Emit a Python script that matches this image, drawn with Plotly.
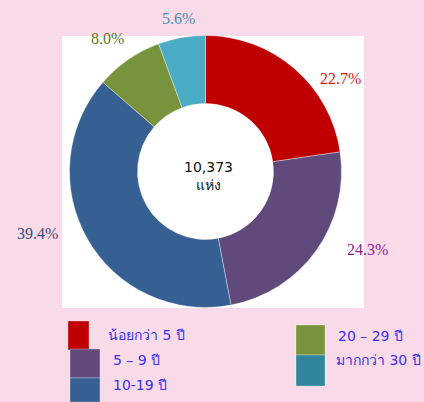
import plotly.graph_objects as go

# ข้อมูล
labels = ["น้อยกว่า 5 ปี", "5 – 9 ปี", "10-19 ปี", "20 – 29 ปี", "มากกว่า 30 ปี"]
values = [22.7, 24.3, 39.4, 8.0, 5.6]
slice_colors = ["#C00000", "#604A7B", "#376092", "#77933C", "#4BACC6"]
legend_colors = ["#C00000", "#604A7B", "#376092", "#77933C", "#31859C"]
pct_colors = ["#D9151B", "#8E1A8E", "#3A4A70", "#5C7A2A", "#4A90B4"]
total_text = "10,373<br>แห่ง"

W, H = 424, 402
PINK = "#F9DAE9"


def px(x):
    return x / W


def py(y):
    return 1 - y / H


fig = go.Figure()

# พื้นที่วงกลม: ศูนย์กลาง (205.5, 171.5) รัศมี 136
cx, cy, r = 205.5, 171.5, 136
fig.add_trace(go.Pie(
    labels=labels, values=values,
    hole=0.5, sort=False, direction="clockwise", rotation=0,
    marker=dict(colors=slice_colors, line=dict(color="rgba(255,255,255,0.6)", width=0.6)),
    textinfo="none", hoverinfo="label+percent",
    showlegend=False,
    domain=dict(x=[px(cx - r), px(cx + r)], y=[py(cy + r), py(cy - r)]),
))

# กรอบขาว
fig.add_shape(type="rect", xref="paper", yref="paper",
              x0=px(62), x1=px(364), y0=py(308), y1=py(36),
              fillcolor="white", line=dict(width=0), layer="below")

# ป้ายเปอร์เซ็นต์
pct_pos = [(340, 78), (367, 249), (37, 233), (107, 39), (178, 18)]
for v, c, (x, y) in zip(values, pct_colors, pct_pos):
    fig.add_annotation(x=px(x), y=py(y), xref="paper", yref="paper",
                       xanchor="center", yanchor="middle",
                       text=f"{v:.1f}%", showarrow=False,
                       font=dict(family="Liberation Serif", size=16, color=c))

# ข้อความกลาง
fig.add_annotation(x=px(208), y=py(176), xref="paper", yref="paper",
                   xanchor="center", yanchor="middle",
                   text=total_text, showarrow=False,
                   font=dict(family="DejaVu Sans", size=14, color="#111111"))

# คำอธิบายสัญลักษณ์ (วาดเอง)
legend_boxes = [(68, 89, 321, 350), (70, 100, 349, 378), (70, 100, 378, 402),
                (296, 325, 325, 355), (296, 325, 355, 386)]
legend_text_pos = [(106, 335), (111, 360), (111, 385), (336, 336), (334, 360)]
for lab, c, (x0, x1, y0, y1), (tx, ty) in zip(labels, legend_colors, legend_boxes, legend_text_pos):
    fig.add_shape(type="rect", xref="paper", yref="paper",
                  x0=px(x0), x1=px(x1), y0=py(y1), y1=py(y0),
                  fillcolor=c, line=dict(width=0.6, color="rgba(255,255,255,0.5)"))
    fig.add_annotation(x=px(tx), y=py(ty), xref="paper", yref="paper",
                       text=lab, showarrow=False, xanchor="left", yanchor="middle",
                       font=dict(family="DejaVu Sans", size=14, color="#3B30F0"))

fig.update_layout(
    width=W, height=H,
    paper_bgcolor=PINK,
    plot_bgcolor=PINK,
    margin=dict(l=0, r=0, t=0, b=0),
)

fig.write_html("out.html", config={"displayModeBar": False},
               post_script="document.body.style.margin='0';document.body.style.overflow='hidden';")
